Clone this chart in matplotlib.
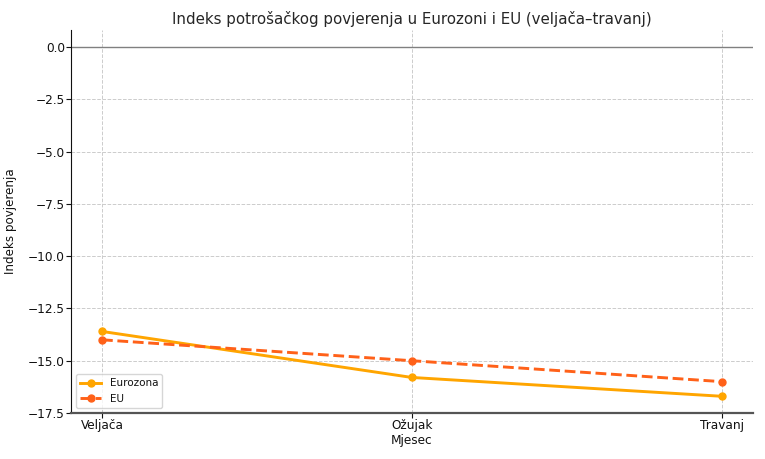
import matplotlib
matplotlib.use("Agg")
import matplotlib.pyplot as plt

months = ["Veljača", "Ožujak", "Travanj"]
eurozona = [-13.6, -15.8, -16.7]
eu = [-14.0, -15.0, -16.0]

fig = plt.figure(figsize=(7.65, 4.59), dpi=100)
ax = fig.add_axes([0.0928, 0.1002, 0.891, 0.8344])
x = list(range(len(months)))
ax.plot(x, eurozona, color="#FFA500", lw=2.1, marker="o", ms=5, label="Eurozona")
ax.plot(x, eu, color="#FF6119", lw=2.1, ls="--", marker="o", ms=5, label="EU")
ax.axhline(0, color="grey", lw=1)
ax.set_xticks(x)
ax.set_xticklabels(months)
ax.set_xlim(-0.1, 2.1)
ax.set_ylim(-17.5, 0.81)
ax.set_yticks([0, -2.5, -5, -7.5, -10, -12.5, -15, -17.5])
ax.grid(True, ls="--", color="#cccccc", lw=0.7)
for s in ["top", "right"]:
    ax.spines[s].set_visible(False)
ax.spines["bottom"].set_linewidth(1.6)
ax.spines["bottom"].set_color("#555555")
ax.spines["left"].set_color("#111111")
ax.tick_params(labelsize=8.7, colors="#111111", length=3.3, pad=1)
ax.set_title("Indeks potrošačkog povjerenja u Eurozoni i EU (veljača–travanj)", fontsize=10.8, color="#262626", pad=4.5)
ax.set_xlabel("Mjesec", fontsize=8.7, color="#111111")
ax.set_ylabel("Indeks povjerenja", fontsize=8.6, color="#111111")
ax.yaxis.set_label_coords(-0.079, 0.5)
ax.xaxis.set_label_coords(0.5, -0.056)
leg = ax.legend(loc="lower left", fontsize=7.5)
for t in leg.get_texts():
    t.set_color("#111111")
fig.savefig("out.png", dpi=100)
